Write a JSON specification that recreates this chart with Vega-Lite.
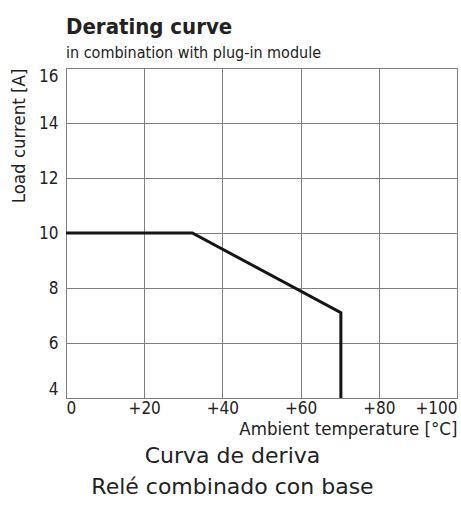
{
 "$schema": "https://vega.github.io/schema/vega-lite/v6.json",
 "width": 391, "height": 330,
 "autosize": {"type": "none"},
 "padding": {"left": 66, "top": 68, "right": 4, "bottom": 110},
 "background": "white",
 "title": {"text": "Derating curve", "subtitle": "in combination with plug-in module", "anchor": "start", "frame": "group", "font": "DejaVu Sans Condensed", "fontSize": 22, "fontWeight": "bold", "color": "#222", "subtitleFont": "DejaVu Sans Condensed", "subtitleFontSize": 16, "subtitleColor": "#222", "offset": 5, "subtitlePadding": 6},
 "data": {"values": [{"t": 0, "i": 10, "o": 1}, {"t": 32.3, "i": 10, "o": 2}, {"t": 70.3, "i": 7.1, "o": 3}, {"t": 70.3, "i": 4, "o": 4}]},
 "config": {
  "view": {"stroke": "#808080", "strokeWidth": 1},
  "axis": {"grid": true, "gridColor": "#808080", "gridOpacity": 1, "gridWidth": 1, "domainColor": "#808080", "ticks": false, "labelFont": "DejaVu Sans Condensed", "labelFontSize": 17, "labelColor": "#222", "titleFont": "DejaVu Sans Condensed", "titleFontSize": 18.5, "titleFontWeight": "normal", "titleColor": "#222"}
 },
 "layer": [
  {"mark": {"type": "line", "color": "#151515", "strokeWidth": 3, "clip": true},
   "encoding": {
    "x": {"field": "t", "type": "quantitative", "scale": {"domain": [0, 100], "nice": false}, "axis": {"orient": "bottom", "values": [0, 20, 40, 60, 80, 100], "labelExpr": "datum.value==0?'0':'+'+datum.value", "labelFlush": true, "labelPadding": 2, "title": "Ambient temperature [°C]", "titleAnchor": "end", "titleAlign": "right", "titlePadding": 3}},
    "y": {"field": "i", "type": "quantitative", "scale": {"domain": [4, 16], "nice": false, "zero": false}, "axis": {"values": [4, 6, 8, 10, 12, 14, 16], "labelFlush": true, "labelPadding": 8, "title": "Load current [A]", "titleAnchor": "end", "titlePadding": 10}},
    "order": {"field": "o"}}},
  {"mark": {"type": "line", "opacity": 0},
   "encoding": {
    "x": {"field": "t", "type": "quantitative", "axis": {"orient": "bottom", "labels": false, "grid": false, "domain": false, "ticks": false, "title": ["Curva de deriva", "Relé combinado con base"], "titleFont": "DejaVu Sans", "titleFontSize": 22, "titleX": 166, "titleY": 64, "titleAlign": "center", "titleBaseline": "alphabetic", "titleLineHeight": 31}},
    "y": {"field": "i", "type": "quantitative"},
    "order": {"field": "o"}}}
 ],
 "resolve": {"axis": {"x": "independent"}}
}
